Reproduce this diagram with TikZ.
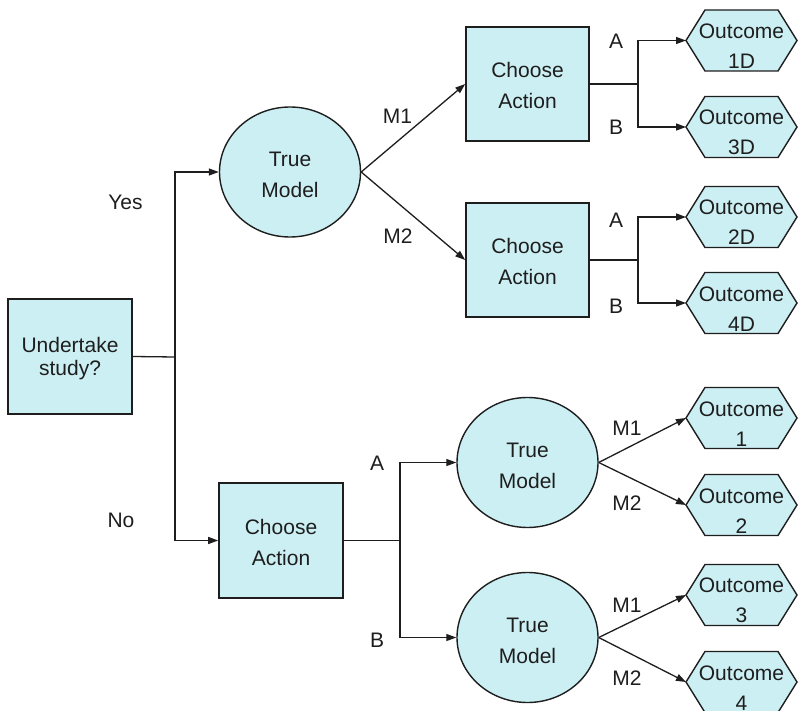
\documentclass[tikz,border=0pt]{standalone}
\usepackage{fontspec}
\setmainfont{Liberation Sans}
\usetikzlibrary{arrows.meta,shapes.geometric}
\definecolor{boxfill}{RGB}{204,239,243}
\definecolor{ink}{RGB}{30,30,30}
% invisible strut that lowers a two-line label inside its shape
\newcommand{\padtop}[1]{\rule{0pt}{#1}}
% outcome: hexagon outline, then a named text node on top of it
\newcommand{\outcome}[3]{%
  \draw[hexline] (#2) ++(-55.5,0) -- ++(19,-30.5) -- ++(73,0) -- ++(19,30.5)
    -- ++(-19,30.5) -- ++(-73,0) -- cycle;
  \node[hexbox] (#1) at (#2) {\padtop{26pt}Outcome\\#3};}
\tikzset{
  base/.style={font=\fontsize{21}{31}\selectfont, text=ink, align=center, inner sep=0pt},
  box/.style={base, rectangle, draw=ink, fill=boxfill, line width=1.6pt,
    minimum width=124pt, minimum height=115pt},
  chance/.style={base, ellipse, draw=ink, fill=boxfill, line width=1.4pt,
    minimum width=141pt, minimum height=130pt},
  hexline/.style={draw=ink, fill=boxfill, line width=1.4pt},
  hexbox/.style={base, font=\fontsize{21}{30}\selectfont, rectangle, draw=none,
    minimum width=111pt, minimum height=61pt, outer sep=0pt},
  lbl/.style={base},
  conn/.style={draw=ink, line width=1.3pt},
  arr/.style={conn, -{Triangle[length=10pt,width=7pt]}},
}
\begin{document}
\begin{tikzpicture}[x=1pt,y=-1pt]
\useasboundingbox (0,0) rectangle (798,711);

% decision and chance nodes
\node[box, font=\fontsize{21}{23}\selectfont] (study) at (70,356.5) {\padtop{20pt}Undertake\\study?};
\node[chance] (tm1) at (290,172) {\padtop{20.3pt}True\\Model};
\node[box, minimum width=123pt, minimum height=114pt] (ca1) at (527.5,84) {\padtop{19pt}Choose\\Action};
\node[box, minimum width=123pt, minimum height=114pt] (ca2) at (527.5,260) {\padtop{19pt}Choose\\Action};
\node[box] (ca3) at (281,540.5) {\padtop{19pt}Choose\\Action};
\node[chance] (tm2) at (527.5,462.5) {\padtop{20.3pt}True\\Model};
\node[chance] (tm3) at (527.5,637.5) {\padtop{20.3pt}True\\Model};

% outcomes
\outcome{o1d}{741.5,40.5}{1D}
\outcome{o3d}{741.5,127}{3D}
\outcome{o2d}{741.5,217}{2D}
\outcome{o4d}{741.5,303}{4D}
\outcome{o1}{741.5,418}{1}
\outcome{o2}{741.5,505}{2}
\outcome{o3}{741.5,595}{3}
\outcome{o4}{741.5,682}{4}

% branch points
\coordinate (j0) at (175,357);
\coordinate (j1) at (638,84);
\coordinate (j2) at (638,260);
\coordinate (j3) at (400,540.5);

% connectors
\draw[conn] (study.east) -- (j0);
\draw[arr] (j0) |- (tm1.west);
\draw[arr] (j0) |- (ca3.west);
\draw[arr] (tm1.east) -- (ca1.west);
\draw[arr] (tm1.east) -- (ca2.west);
\draw[conn] (ca1.east) -- (j1);
\draw[arr] (j1) |- (o1d.west);
\draw[arr] (j1) |- (o3d.west);
\draw[conn] (ca2.east) -- (j2);
\draw[arr] (j2) |- (o2d.west);
\draw[arr] (j2) |- (o4d.west);
\draw[conn] (ca3.east) -- (j3);
\draw[arr] (j3) |- (tm2.west);
\draw[arr] (j3) |- (tm3.west);
\draw[arr] (tm2.east) -- (o1.west);
\draw[arr] (tm2.east) -- (o2.west);
\draw[arr] (tm3.east) -- (o3.west);
\draw[arr] (tm3.east) -- (o4.west);

% branch labels
\node[lbl] (yes) at (125.5,202.5) {Yes};
\node[lbl] (no) at (121,520) {No};
\node[lbl] (m1a) at (397.5,116.5) {M1};
\node[lbl] (m2a) at (398,236.5) {M2};
\node[lbl] (a1) at (616,41) {A};
\node[lbl] (b1) at (616,127) {B};
\node[lbl] (a2) at (616,220) {A};
\node[lbl] (b2) at (616,306) {B};
\node[lbl] (a3) at (377,463) {A};
\node[lbl] (b3) at (377,640) {B};
\node[lbl] (m1b) at (627,428) {M1};
\node[lbl] (m2b) at (627,503) {M2};
\node[lbl] (m1c) at (627,605) {M1};
\node[lbl] (m2c) at (627,678) {M2};
\end{tikzpicture}
\end{document}
